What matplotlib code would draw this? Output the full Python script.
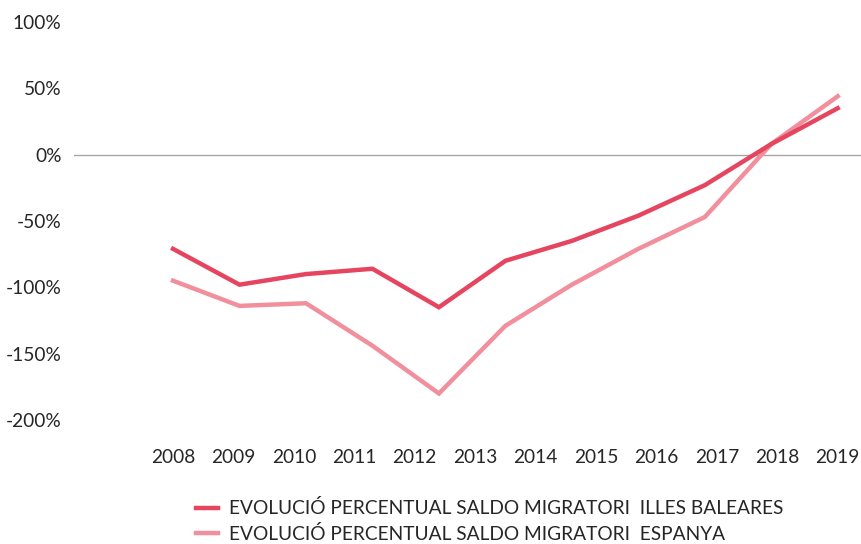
import matplotlib.pyplot as plt
import numpy as np

plt.rcParams['font.family'] = ['Lato', 'DejaVu Sans']

years = ["2008", "2009", "2010", "2011", "2012", "2013", "2014", "2015", "2016", "2017", "2018", "2019"]
baleares = [-71, -98, -90, -86, -115, -80, -65, -46, -23, 8, 35]
espanya = [-95, -114, -112, -144, -180, -129, -98, -71, -47, 8, 44]

c_bal = "#E5455F"
c_esp = "#F28F9D"

fig = plt.figure(figsize=(8.61, 5.44), dpi=100)
ax = fig.add_axes([74/861, 1-420/544, 1-74/861, 398/544])

x = np.arange(len(baleares))
ax.plot(x, baleares, color=c_bal, lw=3.2, solid_joinstyle="miter",
        label="EVOLUCIÓ PERCENTUAL SALDO MIGRATORI  ILLES BALEARES", zorder=3)
ax.plot(x, espanya, color=c_esp, lw=3.2, solid_joinstyle="miter",
        label="EVOLUCIÓ PERCENTUAL SALDO MIGRATORI  ESPANYA", zorder=2)

ax.axhline(0, color="#A6A6A6", lw=1, zorder=1)

ax.set_ylim(-200, 100)
ax.set_yticks(np.arange(-200, 101, 50))
ax.set_yticklabels([f"{v}%" for v in range(-200, 101, 50)])
ax.set_xlim(-1.49, 10.35)
ax.set_xticks(np.arange(len(years)) * (len(x) - 1) / (len(years) - 1))
ax.set_xticklabels(years)

for s in ax.spines.values():
    s.set_visible(False)
ax.tick_params(length=0, labelsize=13.8, colors="#262626")
ax.tick_params(axis="y", pad=9)
ax.tick_params(axis="x", pad=21)

leg = fig.legend(loc="upper left", bbox_to_anchor=(181/861, 1-484/544), frameon=False,
                 fontsize=13.8, handlelength=1.15, handletextpad=0.55, labelspacing=0.4,
                 borderpad=0.3)
for t in leg.get_texts():
    t.set_color("#262626")

fig.savefig("out.png", dpi=100)
